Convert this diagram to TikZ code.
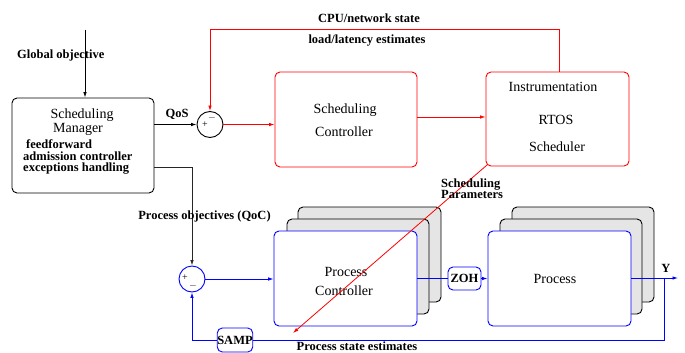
\documentclass[tikz,border=0pt]{standalone}
\usepackage{fontspec}
\setmainfont{Liberation Serif}
\usetikzlibrary{arrows.meta}
\begin{document}
\begin{tikzpicture}[x=1pt,y=-1pt,
  box/.style={draw, rounded corners=5pt, line width=0.9pt, fill=white, inner sep=0pt},
  backbox/.style={draw=black, fill=black!10, rounded corners=5pt, line width=0.9pt},
  lbl/.style={font=\fontsize{12.5}{12.5}\selectfont\bfseries, inner sep=0pt},
  txt/.style={font=\fontsize{14}{16}\selectfont, inner sep=0pt},
  sgn/.style={font=\fontsize{10}{10}\selectfont, inner sep=0pt},
  sumc/.style={draw, circle, minimum size=26pt, inner sep=0pt, line width=0.9pt},
  arr/.style={-{Latex[length=5.5pt,width=3.5pt]}, line width=0.8pt},
  ln/.style={line width=0.8pt},
]
\useasboundingbox (0,0) rectangle (685,353);

% ---------- Scheduling Manager ----------
\node[box, minimum width=142pt, minimum height=95pt] (mgr) at (83,145.5) {};
\node[txt, anchor=base] (mgrA) at (82,118) {Scheduling};
\node[txt, anchor=base] (mgrB) at (78,132) {Manager};
\node[lbl, anchor=base west] (mgrC) at (26,148) {feedforward};
\node[lbl, anchor=base west] (mgrD) at (23,160) {admission controller};
\node[lbl, anchor=base west] (mgrE) at (23,171) {exceptions handling};

\coordinate (gtop) at (85,30);
\node[lbl, anchor=base west] (glob) at (17,59) {Global objective};
\draw[arr] (gtop) -- (gtop |- mgr.north);

% ---------- upper loop ----------
\node[sumc] (s1) at (210,124.5) {};
\node[sgn] (s1p) at (205,125) {+};
\node[sgn] (s1m) at (212,118) {$-$};
\node[lbl, anchor=base] (qos) at (177,117) {QoS};
\draw[arr] (s1 -| mgr.east) -- (s1.west);

\node[box, draw=red, minimum width=142pt, minimum height=95pt] (sc) at (346,119.5) {};
\node[txt, anchor=base] (scA) at (345,113) {Scheduling};
\node[txt, anchor=base] (scB) at (344,136) {Controller};

\node[box, draw=red, minimum width=143pt, minimum height=94pt] (ins) at (557.5,119) {};
\node[txt, anchor=base] (insA) at (553,91) {Instrumentation};
\node[txt, anchor=base] (insB) at (556,124) {RTOS};
\node[txt, anchor=base] (insC) at (557,151) {Scheduler};

\draw[arr, red] (s1.east) -- (s1.east -| sc.west);
\coordinate (scy) at (0,117);
\draw[arr, red] (sc.east |- scy) -- (ins.west |- scy);

\coordinate (fbx) at (559,29);
\draw[arr, red] (fbx |- ins.north) -- (fbx) -- (fbx -| s1) -- (s1.north);
\node[lbl, anchor=base] (cpu) at (369,23) {CPU/network state};
\node[lbl, anchor=base] (load) at (367,44) {load/latency estimates};

% ---------- lower loop ----------
\coordinate (mo) at (192,167);
\node[sumc, draw=blue] (s2) at (192,279) {};
\node[sgn] (s2p) at (185,278) {+};
\node[sgn] (s2m) at (193,286) {$-$};
\draw[arr, black!85] (mo -| mgr.east) -- (mo) -- (s2.north);
\node[lbl, anchor=base] (poq) at (204.5,219) {Process objectives (QoC)};

% stacks
\draw[backbox] (298,207) rectangle (441,302);
\draw[backbox] (287,219) rectangle (429,314);
\node[box, draw=blue, minimum width=143pt, minimum height=95pt] (pc) at (345.5,278.5) {};
\node[txt, anchor=base] (pcA) at (346,276) {Process};
\node[txt, anchor=base] (pcB) at (344,295) {Controller};

\draw[backbox] (512,207) rectangle (654,302);
\draw[backbox] (500,219) rectangle (642,314);
\node[box, draw=blue, minimum width=143pt, minimum height=95pt] (proc) at (559.5,278.5) {};
\node[txt, anchor=base] (procA) at (555,283) {Process};

\node[box, draw=blue, minimum width=33pt, minimum height=23pt, font=\fontsize{12.5}{12.5}\selectfont\bfseries] (zoh) at (464.5,278.5) {ZOH};
\node[box, draw=blue, minimum width=33pt, minimum height=24pt, font=\fontsize{12.5}{12.5}\selectfont\bfseries, fill=none] (samp) at (235,340) {SAMP};

\draw[arr, blue] (s2.east) -- (s2.east -| pc.west);
\draw[ln, blue] (pc.east |- zoh) -- (zoh.west);
\draw[arr, blue] (zoh.east) -- (zoh.east -| proc.west);

\coordinate (yout) at (678,278);
\draw[arr, blue] (proc.east |- yout) -- (yout);
\node[lbl, anchor=base] (ylbl) at (666,272) {Y};

\coordinate (fbt) at (664,278);
\coordinate (fbb) at (664,340);
\draw[ln, blue] (fbt) -- (fbb) -- (samp.east);
\draw[arr, blue] (samp.west) -- (samp.west -| s2) -- (s2.south);
\node[lbl, anchor=base] (pse) at (357,350) {Process state estimates};

% scheduling parameters
\coordinate (spEnd) at (293,333);
\draw[arr, red] ([xshift=1.5pt,yshift=1.5pt]ins.south west) -- (spEnd);
\node[lbl, anchor=base west] (spA) at (441,187) {Scheduling};
\node[lbl, anchor=base west] (spB) at (441,198) {Parameters};
\end{tikzpicture}
\end{document}
